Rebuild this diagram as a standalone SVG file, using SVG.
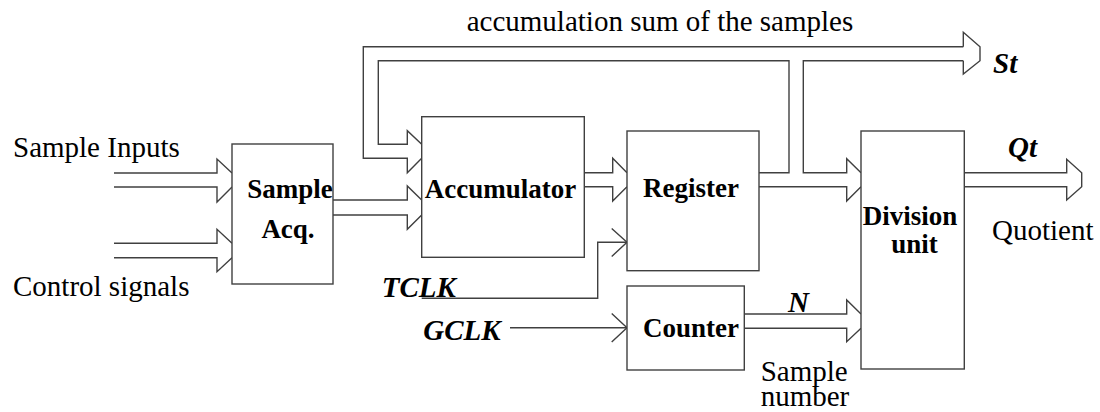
<svg xmlns="http://www.w3.org/2000/svg" width="1100" height="412" viewBox="0 0 1100 412">
  <style>
    .box { fill: #ffffff; stroke: #404040; stroke-width: 1.4; }
    .wire { fill: none; stroke: #404040; stroke-width: 1.4; stroke-linejoin: miter; }
    text { font-family: "Liberation Serif", "DejaVu Serif", Tinos, "Times New Roman", Times, serif; fill: #000; }
    .lbl { font-size: 29px; }
    .sig { font-size: 29px; font-weight: bold; font-style: italic; }
    .node { font-size: 27px; font-weight: bold; text-anchor: middle; }
  </style>
  <rect width="1100" height="412" fill="#ffffff"/>

  <!-- connectors: bus arrows drawn as hollow double-line shafts, clocks as single lines -->
  <g id="connectors" class="wire">
    <!-- Sample Inputs bus -->
    <path d="M114,173 H217 V159 L232,173 M232,187 L217,202 V187 H114"/>
    <!-- Control signals bus -->
    <path d="M114,243.3 H217 V229.3 L232,243.3 M232,257.7 L217,271.7 V257.7 H114"/>
    <!-- Sample Acq. to Accumulator -->
    <path d="M333,200 H407.3 V186 L421.7,200 M421.7,215 L407.3,229.3 V215 H333"/>
    <!-- accumulation sum feedback and St output -->
    <path d="M963.3,46.7 H363.3 V158.3 H407.3 V172.7 L421.7,158.3"/>
    <path d="M759,172.7 H789 V60.7 H378.3 V144.3 H407.3 V130.7 L421.7,144.3"/>
    <path d="M963.3,60.7 H803.3 V172.7 H846.7 V158.7 L861,172.7"/>
    <path d="M963.3,46.7 V32.3 L980,46.7 V60.7 L963.3,74 V60.7"/>
    <!-- Register to Division unit (lower rail) -->
    <path d="M759,186.7 H846.7 V201 L861,186.7"/>
    <!-- Accumulator to Register -->
    <path d="M584.3,172.7 H612.7 V158.3 L627,172.7 M627,186.7 L612.7,201 V186.7 H584.3"/>
    <!-- Qt output -->
    <path d="M964.3,172.7 H1066.7 V159.3 L1081.7,172.7 V186.7 L1066.7,200 V186.7 H964.3"/>
    <!-- TCLK -->
    <path d="M421.7,298.3 H597.7 V242.3 H627"/>
    <path d="M611.7,228.5 L627,242.3 L611.7,256.5"/>
    <!-- GCLK -->
    <path d="M510,327.7 H627"/>
    <path d="M611.7,313.5 L627,327.7 L611.7,342"/>
    <!-- Counter to Division unit (N) -->
    <path d="M744.3,314 H846.7 V300 L861,314 M861,328.3 L846.7,341.7 V328.3 H744.3"/>
  </g>

  <g id="sample-acq">
    <rect class="box" x="232" y="144" width="101" height="140"/>
    <text class="node" x="290" y="198">Sample</text>
    <text class="node" x="288" y="238">Acq.</text>
  </g>

  <g id="accumulator">
    <rect class="box" x="421.7" y="116.7" width="162.6" height="140.6"/>
    <text class="node" x="500.5" y="198">Accumulator</text>
  </g>

  <g id="register">
    <rect class="box" x="627" y="131" width="132" height="139.7"/>
    <text class="node" x="691" y="197">Register</text>
  </g>

  <g id="counter">
    <rect class="box" x="627" y="286" width="117.3" height="84"/>
    <text class="node" x="691" y="337">Counter</text>
  </g>

  <g id="division-unit">
    <rect class="box" x="861" y="131" width="103.3" height="238"/>
    <text class="node" x="910" y="225">Division</text>
    <text class="node" x="914.5" y="253">unit</text>
  </g>

  <g id="labels">
    <text class="lbl" x="13" y="157">Sample Inputs</text>
    <text class="lbl" x="13" y="296">Control signals</text>
    <text class="lbl" x="466.7" y="30.5">accumulation sum of the samples</text>
    <text class="lbl" x="992" y="240">Quotient</text>
    <text class="lbl" x="760.7" y="381" font-size="27.5">Sample</text>
    <text class="lbl" x="760.7" y="406" font-size="27.5">number</text>
    <text class="sig" x="993" y="72.7">St</text>
    <text class="sig" x="1008" y="157">Qt</text>
    <text class="sig" x="381.7" y="297">TCLK</text>
    <text class="sig" x="423.3" y="340">GCLK</text>
    <text class="sig" x="788" y="311.7">N</text>
  </g>
</svg>
